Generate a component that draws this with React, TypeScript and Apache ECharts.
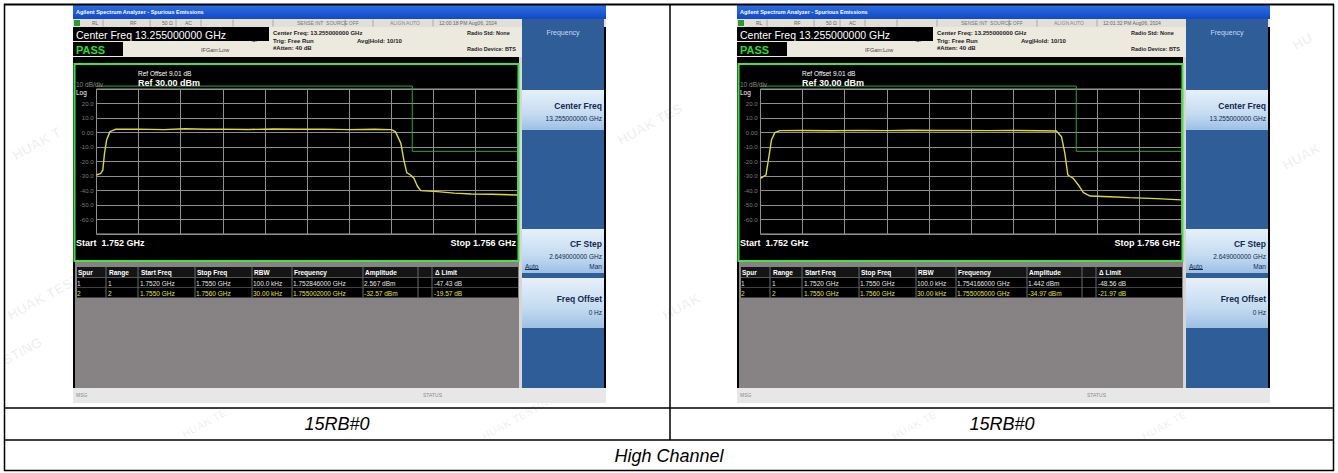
import React, { useEffect, useRef } from "react";
import * as echarts from "echarts";

// ---------- data ----------
const FREQ_MIN_MHZ = 1752;
const FREQ_MAX_MHZ = 1756;
const FREQ_DIV_MHZ = 0.4;
const AMP_MIN_DBM = -70;
const AMP_MAX_DBM = 30;
const AMP_DIV_DB = 10;

// trace readings [MHz, dBm]
const TRACE_LEFT: [number, number][] = [
  [1752.0, -29.3], [1752.04, -28.2], [1752.06, -25.9], [1752.076, -14.4], [1752.096, -5.2],
  [1752.128, 0.6], [1752.18, 2.2], [1752.4, 2.3], [1752.64, 2.0], [1752.84, 2.6],
  [1753.04, 2.2], [1753.2, 2.3], [1753.44, 2.1], [1753.68, 2.4], [1753.92, 2.2],
  [1754.16, 2.3], [1754.4, 2.0], [1754.64, 2.2], [1754.8, 2.0], [1754.84, 0.6],
  [1754.892, -7.5], [1754.92, -19.0], [1754.948, -27.7], [1754.984, -29.3], [1755.016, -31.6],
  [1755.048, -36.9], [1755.08, -40.1], [1755.24, -40.8], [1755.4, -41.8], [1755.56, -42.4],
  [1755.76, -42.6], [1756.0, -43.1],
];
const TRACE_RIGHT: [number, number][] = [
  [1752.0, -31.6], [1752.052, -29.3], [1752.08, -16.7], [1752.104, -5.2], [1752.136, -0.1],
  [1752.184, 1.3], [1752.4, 1.4], [1752.68, 1.2], [1752.96, 1.5], [1753.2, 1.3],
  [1753.44, 1.6], [1753.68, 1.4], [1753.92, 1.5], [1754.16, 1.3], [1754.4, 1.4],
  [1754.64, 1.2], [1754.812, 1.0], [1754.86, -2.9], [1754.892, -14.4], [1754.92, -29.3],
  [1754.972, -31.6], [1755.02, -36.2], [1755.068, -41.5], [1755.132, -43.8], [1755.32, -44.3],
  [1755.508, -44.9], [1755.76, -45.6], [1756.0, -46.5],
];
// limit line [MHz, dBm]
const LIMIT_FREQ = [1752, 1755, 1755, 1756];
const LIMIT_DBM = [50, 50, -13, -13];

const TABLE_HEADERS = ["Spur", "Range", "Start Freq", "Stop Freq", "RBW", "Frequency", "Amplitude", "\u0394 Limit"];
const ROWS_LEFT = [
  ["1", "1", "1.7520 GHz", "1.7550 GHz", "100.0 kHz", "1.752846000 GHz", "2.567 dBm", "-47.43 dB"],
  ["2", "2", "1.7550 GHz", "1.7560 GHz", "30.00 kHz", "1.755002000 GHz", "-32.57 dBm", "-19.57 dB"],
];
const ROWS_RIGHT = [
  ["1", "1", "1.7520 GHz", "1.7550 GHz", "100.0 kHz", "1.754166000 GHz", "1.442 dBm", "-48.56 dB"],
  ["2", "2", "1.7550 GHz", "1.7560 GHz", "30.00 kHz", "1.755005000 GHz", "-34.97 dBm", "-21.97 dB"],
];
const CLOCKS = ["12:00:18 PM Aug06, 2024", "12:01:32 PM Aug06, 2024"];
const CAPTIONS = ["15RB#0", "15RB#0"];
const CHANNEL_LABEL = "High Channel";

const FONT = '"Liberation Sans", Arial, sans-serif';

function buildScreen(ox: number, clock: string, rows: string[][]) {
  const els: any[] = [];
  const R = (x: number, y: number, w: number, h: number, fill: any, z = 1, stroke?: string, lw = 1) =>
    els.push({ type: "rect", silent: true, z, shape: { x: ox + x, y, width: w, height: h }, style: { fill, stroke, lineWidth: lw } });
  const L = (x1: number, y1: number, x2: number, y2: number, stroke: string, z = 2, lw = 1) =>
    els.push({ type: "line", silent: true, z, shape: { x1: ox + x1, y1, x2: ox + x2, y2 }, style: { stroke, lineWidth: lw } });
  const T = (x: number, y: number, text: string, fill: string, size: number, weight = "normal", align = "left") =>
    els.push({
      type: "text", silent: true, z: 10, x: ox + x, y,
      style: { text, fill, fontSize: size, fontWeight: weight, fontFamily: FONT, align, verticalAlign: "middle" },
    });

  // base
  R(0, 5, 533, 398, "#000");
  // title bar
  R(0, 5, 533, 14, new echarts.graphic.LinearGradient(0, 0, 0, 1, [
    { offset: 0, color: "#2b6fe6" }, { offset: 1, color: "#1249c4" }]));
  T(3, 12, "Agilent Spectrum Analyzer - Spurious Emissions", "#ffffff", 5.5, "bold");
  // status row
  R(0, 19, 533, 8, "#e2dfd6");
  R(1, 20, 6, 6, "#2f9a2f", 2);
  T(19, 23, "RL", "#666", 5);
  T(57, 23, "RF", "#666", 5);
  T(89, 23, "50 \u03a9", "#666", 5);
  T(112, 23, "AC", "#666", 5);
  T(224, 23, "SENSE:INT  SOURCE OFF", "#777", 5);
  T(317, 23, "ALIGN AUTO", "#888", 5);
  T(366, 23, clock, "#666", 5);
  [30, 77, 103, 128, 160, 200, 272, 300, 360].forEach((x) => L(x, 19.5, x, 26.5, "#aaa"));
  // header beige
  R(0, 27, 449, 30, "#ece9df");
  R(0, 27, 196, 14, "#000", 2);
  T(3, 34.5, "Center Freq 13.255000000 GHz", "#ffffff", 10.5);
  R(0, 42, 50, 14, "#000", 2);
  T(3, 49.5, "PASS", "#27dc27", 11, "bold");
  T(128, 50, "IFGain:Low", "#444", 5.5);
  T(178, 41, "-\u2022-", "#333", 6);
  T(200, 33, "Center Freq: 13.255000000 GHz", "#222", 6, "bold");
  T(200, 40.5, "Trig: Free Run", "#222", 6, "bold");
  T(284, 40.5, "Avg|Hold: 10/10", "#222", 6, "bold");
  T(200, 48, "#Atten: 40 dB", "#222", 6, "bold");
  T(394, 33, "Radio Std: None", "#222", 5.5, "bold");
  T(394, 49, "Radio Device: BTS", "#222", 5.5, "bold");
  // plot frame
  R(446, 57, 3, 331, "#d6d6d6", 2);
  R(1.5, 64, 444, 197, null, 5, "#46e046", 2);
  T(3, 84, "10 dB/div", "#8a8a8a", 6.5);
  T(3, 92, "Log", "#ffffff", 6.5);
  T(65, 73, "Ref Offset 9.01 dB", "#ffffff", 6.5);
  T(65, 82.5, "Ref 30.00 dBm", "#ffffff", 9, "bold");
  T(3, 243, "Start  1.752 GHz", "#ffffff", 9, "bold");
  T(443, 243, "Stop 1.756 GHz", "#ffffff", 9, "bold", "right");
  // table
  R(2, 262, 444, 126, "#878385");
  R(4, 267, 441, 10, "#151515", 2);
  R(4, 278, 441, 9.5, "#000", 2);
  R(4, 288, 441, 9.5, "#000", 2);
  const colX = [5, 36, 68, 124, 181, 221, 292, 362];
  const sepX = [33, 65, 122, 179, 219, 290, 345, 359];
  sepX.forEach((x) => L(x, 267, x, 297.5, "#6a6a6a", 3));
  L(4, 277.5, 445, 277.5, "#555", 3);
  TABLE_HEADERS.forEach((h, i) => T(colX[i], 272, h, "#ffffff", 6.5, "bold"));
  rows.forEach((r, ri) =>
    r.forEach((c, i) => T(colX[i] - 1, 283 + ri * 10, c, ri === 0 ? "#e4e4e4" : "#e2e03c", 6.5)));
  // status bar
  R(0, 388, 533, 15, "#e7e7e7");
  T(3, 395, "MSG", "#8a8a8a", 5);
  T(350, 395, "STATUS", "#8a8a8a", 5);
  // soft-key panel
  R(449, 19, 82, 369, "#2e5d98");
  T(490, 32, "Frequency", "#c6dbf3", 7, "normal", "center");
  const btnFill = () => new echarts.graphic.LinearGradient(0, 0, 0, 1, [
    { offset: 0, color: "#e6f0fa" }, { offset: 0.6, color: "#c4dbf1" }, { offset: 1, color: "#9dc0e4" }]);
  R(449, 90, 82, 40, btnFill(), 2);
  R(449, 229, 82, 44, btnFill(), 2);
  R(449, 278, 82, 50, btnFill(), 2);
  const navy = "#15284d";
  T(529, 106, "Center Freq", navy, 8.5, "bold", "right");
  T(529, 118, "13.255000000 GHz", navy, 6.5, "normal", "right");
  T(529, 244, "CF Step", navy, 8.5, "bold", "right");
  T(529, 256, "2.649000000 GHz", navy, 6.5, "normal", "right");
  T(452, 266, "Auto", navy, 6.5);
  L(452, 269.5, 466, 269.5, navy, 11);
  T(529, 266, "Man", navy, 6.5, "normal", "right");
  T(529, 299, "Freq Offset", navy, 8.5, "bold", "right");
  T(529, 312, "0 Hz", navy, 6.5, "normal", "right");
  return els;
}

export default function App() {
  const ref = useRef<HTMLDivElement>(null);
  useEffect(() => {
    document.body.style.margin = "0";
    if (!ref.current) return;
    const chart = echarts.init(ref.current, undefined, { renderer: "svg" });
    const offsets = [73, 737];
    const traces = [TRACE_LEFT, TRACE_RIGHT];
    const rowsets = [ROWS_LEFT, ROWS_RIGHT];
    const limitDisplay = LIMIT_FREQ.map((f, i) => [f, Math.min(LIMIT_DBM[i], AMP_MAX_DBM + 2)]);

    const graphics: any[] = [];
    // watermarks
    const wm = [
      [10, 150, "HUAK T", 14], [5, 310, "HUAK TEST", 14], [0, 355, "STING", 14], [615, 135, "HUAK TES", 14],
      [660, 310, "HUAK", 14], [1290, 40, "HU", 14], [180, 430, "HUAK TE", 11], [480, 432, "HUAK TESTING", 11],
      [890, 432, "HUAK TE", 11], [1140, 432, "HUAK TE", 11], [1280, 160, "HUAK", 14],
    ];
    wm.forEach(([x, y, t, s]) =>
      graphics.push({
        type: "text", silent: true, z: 0, x: x as number, y: y as number, rotation: 0.5,
        style: { text: t as string, fill: "rgba(0,0,0,0.06)", fontSize: s as number, fontWeight: "bold", fontFamily: FONT },
      }));
    offsets.forEach((ox, i) => graphics.push(...buildScreen(ox, CLOCKS[i], rowsets[i])));
    // table borders
    const B = (x1: number, y1: number, x2: number, y2: number, lw = 1.5) =>
      graphics.push({ type: "line", silent: true, z: 20, shape: { x1, y1, x2, y2 }, style: { stroke: "#000", lineWidth: lw } });
    B(4, 4.5, 1334, 4.5, 2);
    B(4.5, 4, 4.5, 471);
    B(1333.5, 4, 1333.5, 471);
    B(4, 470.5, 1334, 470.5);
    B(670, 4, 670, 440);
    B(4, 408, 1334, 408);
    B(4, 440, 1334, 440);
    const cap = (x: number, y: number, text: string) =>
      graphics.push({
        type: "text", silent: true, z: 20, x, y,
        style: { text, fill: "#000", fontSize: 18, fontStyle: "italic", fontFamily: FONT, align: "center", verticalAlign: "middle" },
      });
    cap(337, 424, CAPTIONS[0]);
    cap(1002, 424, CAPTIONS[1]);
    cap(669, 456, CHANNEL_LABEL);

    const grids = offsets.map((ox) => ({
      left: ox + 23.5, top: 89, width: 421, height: 145, show: true, z: 2,
      backgroundColor: "#000", borderColor: "#a0a0a0", borderWidth: 1,
    }));
    const xAxes = offsets.map((_, i) => ({
      type: "value", gridIndex: i, min: FREQ_MIN_MHZ, max: FREQ_MAX_MHZ, interval: FREQ_DIV_MHZ, z: 3,
      axisLabel: { show: false }, axisTick: { show: false }, axisLine: { show: false },
      splitLine: { show: true, lineStyle: { color: "#8f8f8f", width: 1 } },
    }));
    const yAxes = offsets.map((_, i) => ({
      type: "value", gridIndex: i, min: AMP_MIN_DBM, max: AMP_MAX_DBM, interval: AMP_DIV_DB, z: 3,
      axisTick: { show: false }, axisLine: { show: false },
      axisLabel: {
        show: true, color: "#7d7d7d", fontSize: 6, margin: 3, fontFamily: FONT,
        formatter: (v: number) => (v === AMP_MAX_DBM || v === AMP_MIN_DBM ? "" : v === 0 ? "0.00" : v.toFixed(1)),
      },
      splitLine: { show: true, lineStyle: { color: "#8f8f8f", width: 1 } },
    }));
    const series: any[] = [];
    offsets.forEach((_, i) => {
      series.push({
        type: "line", xAxisIndex: i, yAxisIndex: i, data: limitDisplay, symbol: "none", clip: false, z: 4,
        lineStyle: { color: "#2ea52e", width: 1 },
      });
      series.push({
        type: "line", xAxisIndex: i, yAxisIndex: i, data: traces[i], symbol: "none", z: 5,
        lineStyle: { color: "#dcd83c", width: 1.4 },
      });
    });

    chart.setOption({
      animation: false,
      backgroundColor: "#ffffff",
      grid: grids,
      xAxis: xAxes,
      yAxis: yAxes,
      series,
      graphic: { elements: graphics },
    });
    return () => chart.dispose();
  }, []);
  return <div ref={ref} style={{ position: "absolute", left: 0, top: 0, width: 1338, height: 473 }} />;
}
